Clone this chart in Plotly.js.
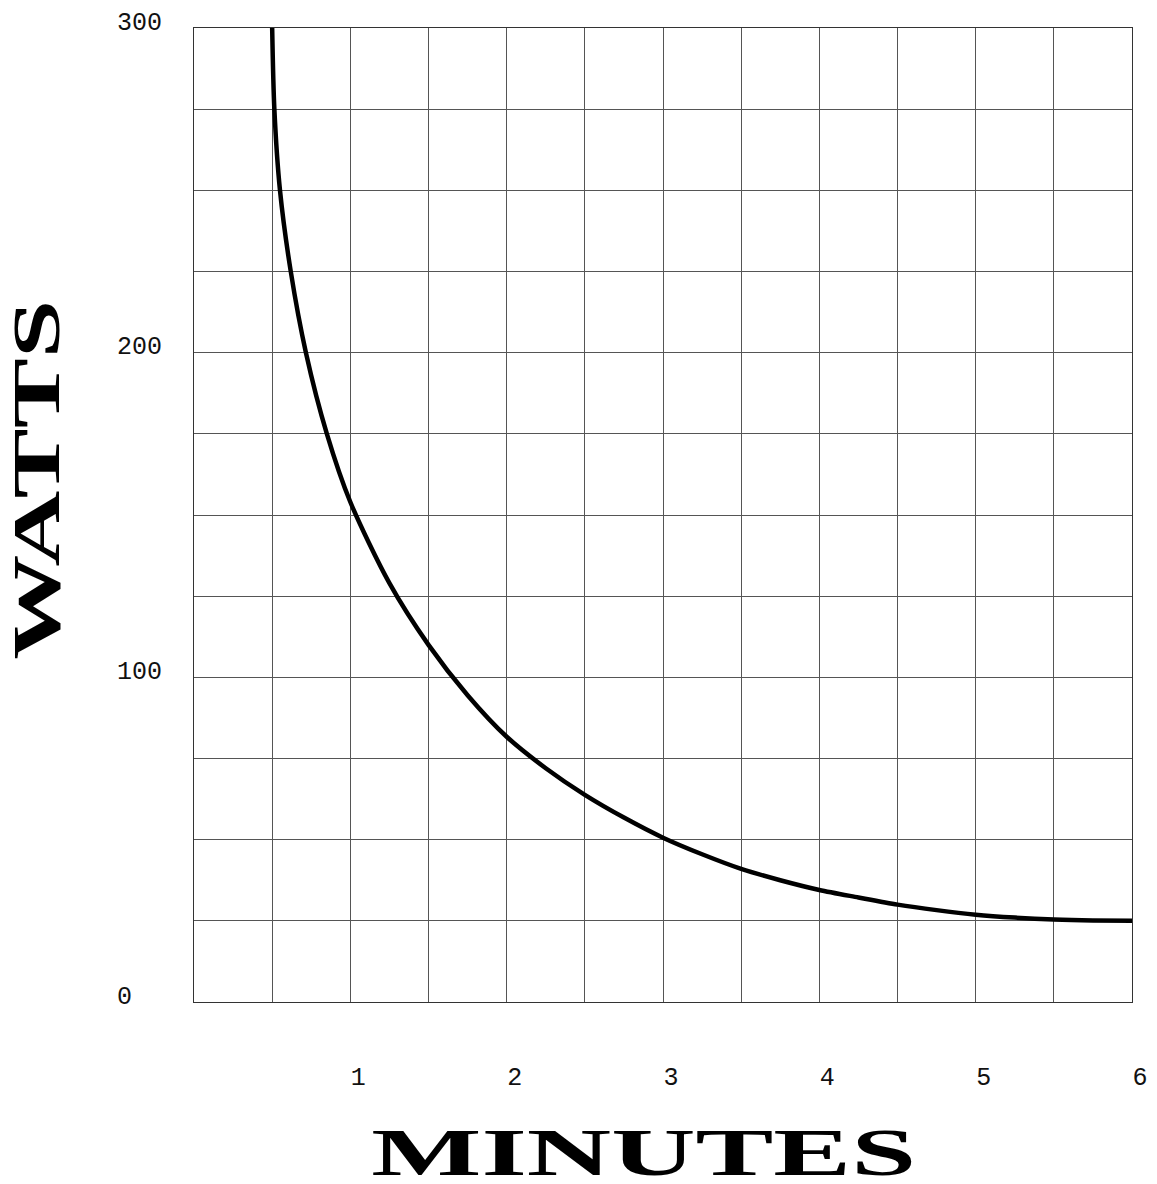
<!DOCTYPE html>
<html>
<head>
<meta charset="utf-8">
<script src="https://cdn.plot.ly/plotly-3.0.1.min.js"></script>
<style>
html, body { margin: 0; padding: 0; background: #fff; }
#chart { width: 1157px; height: 1184px; }
</style>
</head>
<body>
<div id="chart"></div>
<script>
// Data
const minutes = [0.5, 0.514, 0.55, 0.619, 0.716, 0.85, 1.0, 1.25, 1.5, 1.75, 2.0, 2.25, 2.5, 2.75, 3.0, 3.25, 3.5, 3.75, 4.0, 4.25, 4.5, 4.75, 5.0, 5.25, 5.5, 5.75, 6.0];
const watts   = [300, 275, 250, 225, 200, 175, 154, 129, 110, 94.5, 81.7, 72, 63.8, 56.8, 50.6, 45.5, 41, 37.5, 34.5, 32.2, 30.0, 28.3, 26.9, 26.0, 25.4, 25.1, 25.0];

const xTickVals = [0, 0.5, 1, 1.5, 2, 2.5, 3, 3.5, 4, 4.5, 5, 5.5, 6];
const xTickText = ['', '', '1', '', '2', '', '3', '', '4', '', '5', '', '6'];
const yTickVals = [0, 25, 50, 75, 100, 125, 150, 175, 200, 225, 250, 275, 300];
const yTickText = ['0\u00a0\u00a0', '', '', '', '100', '', '', '', '200', '', '', '', '300'];

const xTitle = 'MINUTES';
const yTitle = 'WATTS';

const trace = {
  x: minutes,
  y: watts,
  type: 'scatter',
  mode: 'lines',
  line: { color: '#000', width: 4.5, shape: 'spline', smoothing: 0.8 },
  hoverinfo: 'skip'
};

const tickFont = { family: 'Liberation Mono, Courier New, monospace', size: 25, color: '#111' };
const titleFont = { family: 'Liberation Serif, Times New Roman, serif', size: 68, color: '#000', weight: 'bold' };

const layout = {
  width: 1157,
  height: 1184,
  margin: { l: 194, r: 25, t: 28, b: 182 },
  paper_bgcolor: '#fff',
  plot_bgcolor: '#fff',
  showlegend: false,
  xaxis: {
    range: [0, 6],
    tickmode: 'array',
    tickvals: xTickVals,
    ticktext: xTickText,
    showgrid: true,
    gridcolor: '#555',
    gridwidth: 1,
    zeroline: false,
    showline: true,
    mirror: true,
    linecolor: '#333',
    linewidth: 1,
    ticks: '',
    tickfont: tickFont,
    ticklabelstandoff: 52,
    ticklabelshift: 8,
    fixedrange: true
  },
  yaxis: {
    range: [0, 300],
    tickmode: 'array',
    tickvals: yTickVals,
    ticktext: yTickText,
    showgrid: true,
    gridcolor: '#555',
    gridwidth: 1,
    zeroline: false,
    showline: true,
    mirror: true,
    linecolor: '#333',
    linewidth: 1,
    ticks: '',
    tickfont: tickFont,
    ticklabelstandoff: 26,
    ticklabelshift: -7,
    fixedrange: true
  },
  annotations: [
    {
      text: xTitle, xref: 'paper', yref: 'paper',
      x: 0.4797, y: -0.1535, xanchor: 'center', yanchor: 'middle',
      showarrow: false, font: titleFont
    },
    {
      text: yTitle, xref: 'paper', yref: 'paper',
      x: -0.168, y: 0.536, xanchor: 'center', yanchor: 'middle',
      textangle: -90, showarrow: false, font: titleFont
    }
  ]
};

Plotly.newPlot('chart', [trace], layout, { displayModeBar: false, staticPlot: true }).then(function (gd) {
  // Stretch the big titles along their text direction, as in the reference
  const targets = [545, 360];
  const texts = gd.querySelectorAll('.annotation-text');
  texts.forEach(function (t, i) {
    const bb = t.getBBox();
    if (bb.width > 0) {
      const s = targets[i] / bb.width;
      t.style.transformBox = 'fill-box';
      t.style.transformOrigin = 'center';
      t.style.transform = 'scaleX(' + s.toFixed(3) + ')';
    }
  });
});
</script>
</body>
</html>
